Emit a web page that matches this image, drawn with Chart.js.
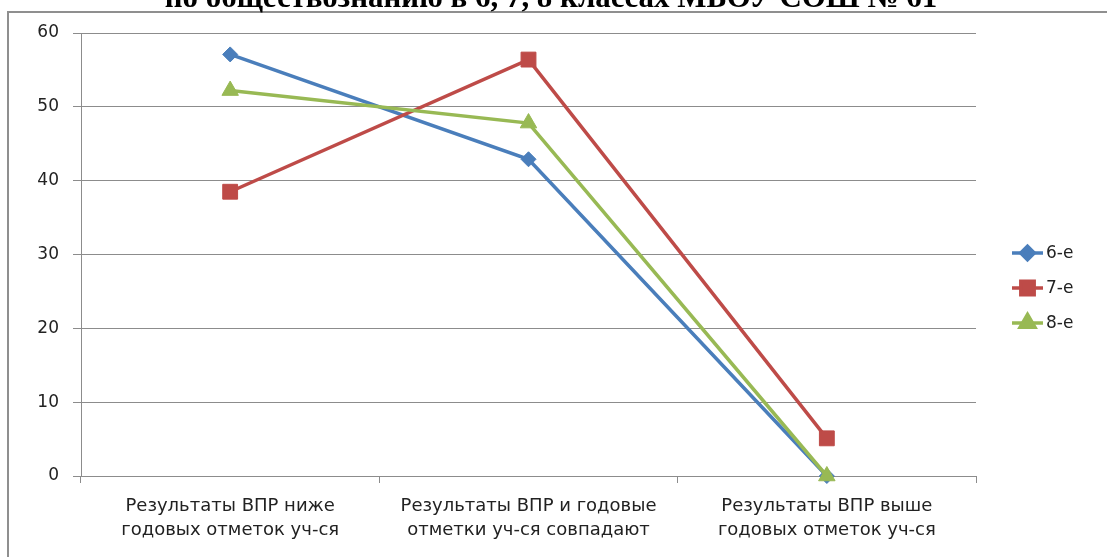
<!DOCTYPE html>
<html><head><meta charset="utf-8">
<script src="https://cdn.jsdelivr.net/npm/chart.js@4.4.0/dist/chart.umd.min.js"></script>
<style>html,body{margin:0;padding:0;background:#fff;overflow:hidden}#wrap{position:absolute;left:0;top:0;width:1107px;height:557px}</style>
</head><body><div id="wrap"><canvas id="c" width="1107" height="557"></canvas></div>
<script>
const titleText = 'по обществознанию в 6, 7, 8 классах МБОУ СОШ № 61';
const categories = [
  ['Результаты ВПР ниже', 'годовых отметок уч-ся'],
  ['Результаты ВПР и годовые', 'отметки уч-ся совпадают'],
  ['Результаты ВПР выше', 'годовых отметок уч-ся']
];
const seriesNames = ['6-е', '7-е', '8-е'];
const s6 = [57.1, 42.9, 0];
const s7 = [38.5, 56.4, 5.1];
const s8 = [52.2, 47.8, 0];
const yMin = 0, yMax = 60, yStep = 10;

const colors = ['#4A7EBB', '#BE4B48', '#98B954'];
const styles = [
  {pointStyle: 'rectRot', pointRadius: 7.5},
  {pointStyle: 'rect', pointRadius: 10.5},
  {pointStyle: 'triangle', pointRadius: 9.5}
];
const seriesValues = [s6, s7, s8];

const datasets = seriesNames.map((n, i) => ({
  label: n,
  data: seriesValues[i],
  borderColor: colors[i],
  backgroundColor: colors[i],
  pointBackgroundColor: colors[i],
  pointBorderColor: colors[i],
  pointBorderWidth: 1,
  pointStyle: styles[i].pointStyle,
  pointRadius: styles[i].pointRadius,
  pointHoverRadius: styles[i].pointRadius,
  borderWidth: 3.5,
  tension: 0,
  clip: false,
  order: 3 - i
}));

const FONT = 'DejaVu Sans';
const gridColor = '#8c8c8c';

const decor = {
  id: 'decor',
  beforeDraw(chart) {
    const ctx = chart.ctx;
    ctx.save();
    ctx.fillStyle = '#fff';
    ctx.fillRect(0, 0, chart.width, chart.height);
    ctx.strokeStyle = '#8f8f8f';
    ctx.lineWidth = 2;
    ctx.beginPath();
    ctx.moveTo(8, chart.height + 5);
    ctx.lineTo(8, 12);
    ctx.lineTo(chart.width + 5, 12);
    ctx.stroke();
    ctx.font = 'bold 100px "Liberation Serif"';
    const w = ctx.measureText(titleText).width;
    const size = 100 * 773 / w;
    ctx.font = 'bold ' + size.toFixed(2) + 'px "Liberation Serif"';
    ctx.fillStyle = '#000';
    ctx.textAlign = 'center';
    ctx.textBaseline = 'alphabetic';
    ctx.fillText(titleText, 551, 7);
    ctx.restore();
  },
  afterDraw(chart) {
    const ctx = chart.ctx;
    ctx.save();
    chart.data.datasets.forEach((ds, i) => {
      const y = 253 + 35 * i;
      ctx.strokeStyle = ds.borderColor;
      ctx.lineWidth = 3.5;
      ctx.beginPath();
      ctx.moveTo(1012, y);
      ctx.lineTo(1043, y);
      ctx.stroke();
      ctx.fillStyle = ds.pointBackgroundColor;
      ctx.strokeStyle = ds.pointBorderColor;
      Chart.helpers.drawPoint(ctx, {pointStyle: ds.pointStyle, radius: ds.pointRadius * 0.9, borderWidth: 1, rotation: 0}, 1027.5, y);
      ctx.fillStyle = '#222';
      ctx.font = '17px "' + FONT + '"';
      ctx.textAlign = 'left';
      ctx.textBaseline = 'middle';
      ctx.fillText(ds.label, 1046, y + 1);
    });
    ctx.restore();
  }
};

new Chart(document.getElementById('c'), {
  type: 'line',
  data: {labels: categories, datasets},
  plugins: [decor],
  options: {
    responsive: false,
    devicePixelRatio: 1,
    animation: false,
    events: [],
    layout: {padding: {left: 0, top: 33, right: 131, bottom: 0}},
    plugins: {legend: {display: false}, title: {display: false}, tooltip: {enabled: false}},
    scales: {
      x: {
        type: 'category',
        offset: true,
        grid: {offset: true, drawOnChartArea: false, drawTicks: true, tickLength: 7, color: gridColor, lineWidth: 1},
        border: {color: gridColor, width: 1},
        ticks: {font: {family: FONT, size: 18, lineHeight: 1.36}, color: '#222', padding: 11, maxRotation: 0, autoSkip: false},
        afterFit(s) { s.height = 81; }
      },
      y: {
        min: yMin, max: yMax,
        ticks: {stepSize: yStep, font: {family: FONT, size: 17}, color: '#222', padding: 14},
        grid: {color: gridColor, lineWidth: 1, tickLength: 8},
        border: {color: gridColor, width: 1},
        afterFit(s) { s.width = 81; }
      }
    }
  }
});
</script>
</body></html>
